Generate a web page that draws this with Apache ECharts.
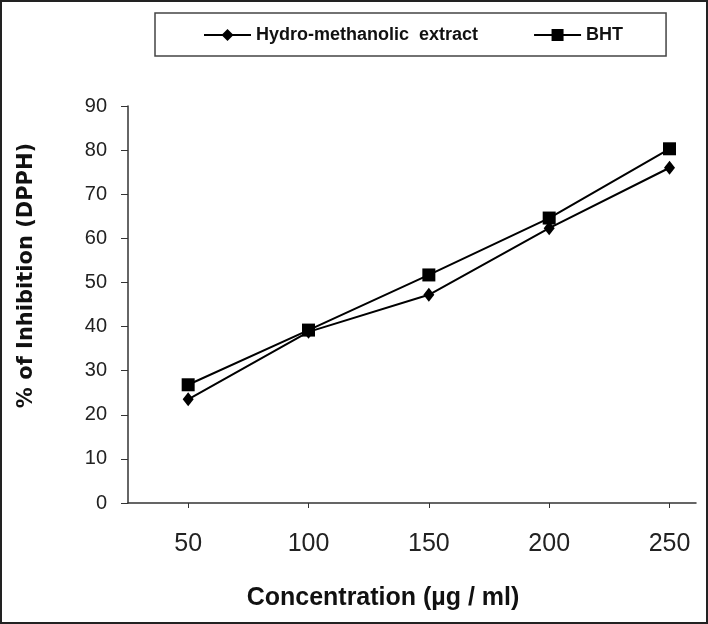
<!DOCTYPE html>
<html>
<head>
<meta charset="utf-8">
<script src="https://cdn.jsdelivr.net/npm/echarts@6/dist/echarts.min.js"></script>
<style>
  html, body { margin: 0; padding: 0; background: #fff; }
  #chart { width: 708px; height: 624px; }
</style>
</head>
<body>
<div id="chart"></div>
<script>
const concentrations = [50, 100, 150, 200, 250]
const hydroMethanolic = [23.5, 38.8, 47.2, 62.3, 76.0]
const bht = [26.8, 39.2, 51.7, 64.6, 80.3]
const seriesNames = ['Hydro-methanolic  extract', 'BHT']

const myChart = echarts.init(document.getElementById('chart'))

const pairs = (ys) => concentrations.map((x, i) => [x, ys[i]])

const option = {
  animation: false,
  backgroundColor: '#fff',
  // dark frame round the whole figure
  graphic: [
    {
      type: 'rect',
      silent: true,
      shape: { x: 1, y: 1, width: 706, height: 622 },
      style: { fill: 'none', stroke: '#222', lineWidth: 2 },
    },
  ],
  legend: {
    left: 155,
    top: 13,
    padding: [13, 43, 12, 48],
    itemGap: 55,
    itemWidth: 47,
    itemHeight: 15,
    borderColor: '#444',
    borderWidth: 1.5,
    textStyle: {
      fontFamily: 'Liberation Sans, Arial, sans-serif',
      fontWeight: 'bold',
      fontSize: 18,
      color: '#111',
    },
    data: seriesNames,
  },
  grid: { left: 128, right: 12, top: 106, bottom: 121 },
  xAxis: {
    type: 'value',
    min: 25,
    max: 261,
    name: 'Concentration (µg / ml)',
    nameLocation: 'middle',
    nameGap: 83,
    nameTextStyle: {
      fontFamily: 'Liberation Sans, Arial, sans-serif',
      fontWeight: 'bold',
      fontSize: 25,
      color: '#111',
      padding: [0, 58, 0, 0],
    },
    axisLine: { lineStyle: { color: '#333', width: 1.5 } },
    axisTick: {
      customValues: concentrations,
      length: 5,
      lineStyle: { color: '#333' },
    },
    axisLabel: {
      customValues: concentrations,
      margin: 29,
      fontFamily: 'Liberation Sans, Arial, sans-serif',
      fontSize: 25,
      color: '#222',
    },
    splitLine: { show: false },
  },
  yAxis: {
    type: 'value',
    min: 0,
    max: 90,
    interval: 10,
    name: '% of Inhibition (DPPH)',
    nameLocation: 'middle',
    nameGap: 91,
    nameTextStyle: {
      fontFamily: 'DejaVu Sans, Verdana, sans-serif',
      fontWeight: 'bold',
      fontSize: 21,
      color: '#111',
      padding: [0, 0, 0, 58],
    },
    axisLine: { show: true, lineStyle: { color: '#333', width: 1.5 } },
    axisTick: { show: true, length: 7, lineStyle: { color: '#333' } },
    axisLabel: {
      margin: 21,
      fontFamily: 'Liberation Sans, Arial, sans-serif',
      fontSize: 20,
      color: '#222',
    },
    splitLine: { show: false },
  },
  series: [
    {
      name: seriesNames[0],
      type: 'line',
      data: pairs(hydroMethanolic),
      symbol: 'diamond',
      symbolSize: [11, 14],
      lineStyle: { color: '#000', width: 2 },
      itemStyle: { color: '#000' },
    },
    {
      name: seriesNames[1],
      type: 'line',
      data: pairs(bht),
      symbol: 'rect',
      symbolSize: 13,
      lineStyle: { color: '#000', width: 2 },
      itemStyle: { color: '#000' },
    },
  ],
}

myChart.setOption(option)
</script>
</body>
</html>
